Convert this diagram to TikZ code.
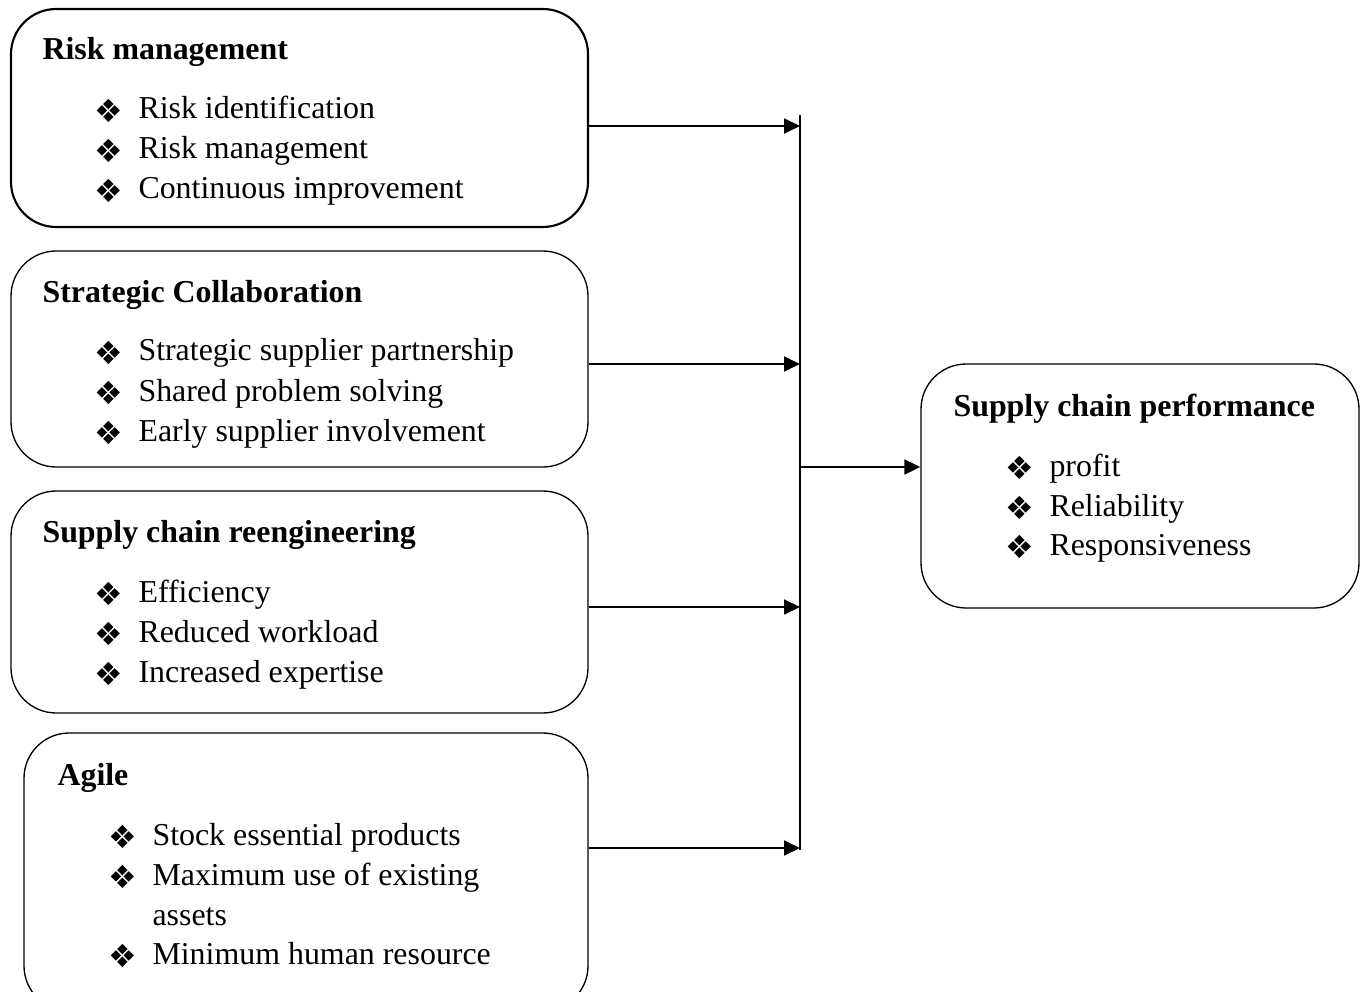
\documentclass[tikz,border=0pt]{standalone}
\usepackage{fontspec}
\setmainfont{Liberation Serif}
\newfontfamily\symfont{DejaVu Sans}
\usetikzlibrary{arrows.meta,fit}
\newcommand{\raute}{\raisebox{-1.3pt}{\symfont\fontsize{12}{12}\selectfont ❖}}

\begin{document}
\begin{tikzpicture}[x=0.3763pt,y=-0.3763pt,font=\fontsize{12}{14}\selectfont,
		box/.style={draw,rounded corners=17pt,line width=0.5pt,inner sep=0pt},
		kopf/.style={anchor=base west,inner sep=0pt,font=\fontsize{12}{14}\selectfont\bfseries},
		punkt/.style={anchor=base west,inner sep=0pt},
		pfeil/.style={-{Triangle[length=6pt,width=5.6pt]},line width=0.8pt}]
		\useasboundingbox (0,0) rectangle (1364,992);
		
		% Kaesten
		\node[box,line width=0.8pt,fit={(11,9) (588,227)}] (rm) {};
		\node[box,fit={(11,251) (588,467)}] (sc) {};
		\node[box,fit={(11,491) (588,713)}] (sr) {};
		\node[box,fit={(24,733) (588,1011)}] (ag) {};
		\node[box,fit={(921,364) (1359,608)}] (scp) {};
		
		% Ueberschriften
		\node[kopf] (rm-k) at (42,60) {Risk management};
		\node[kopf] (sc-k) at (42,302) {Strategic Collaboration};
		\node[kopf] (sr-k) at (42,542) {Supply chain reengineering};
		\node[kopf] (ag-k) at (57,785) {Agile};
		\node[kopf] (scp-k) at (953,416) {Supply chain performance};
		
		% Aufzaehlungen
		\foreach \t [count=\i] in {Risk identification,Risk management,Continuous improvement} {
			\node[punkt] (rm-b\i) at (94,{79+40*\i}) {\raute};
			\node[punkt] (rm-t\i) at (138,{79+40*\i}) {\t};
		}
		\foreach \t [count=\i] in {Strategic supplier partnership,Shared problem solving,Early supplier involvement} {
			\node[punkt] (sc-b\i) at (94,{321+40*\i}) {\raute};
			\node[punkt] (sc-t\i) at (138,{321+40*\i}) {\t};
		}
		\foreach \t [count=\i] in {Efficiency,Reduced workload,Increased expertise} {
			\node[punkt] (sr-b\i) at (94,{562+40*\i}) {\raute};
			\node[punkt] (sr-t\i) at (138,{562+40*\i}) {\t};
		}
		\node[punkt] (ag-b1) at (108,845) {\raute};
		\node[punkt] (ag-t1) at (152,845) {Stock essential products};
		\node[punkt] (ag-b2) at (108,885) {\raute};
		\node[punkt] (ag-t2) at (152,885) {Maximum use of existing};
		\node[punkt] (ag-t3) at (152,925) {assets};
		\node[punkt] (ag-b4) at (108,964) {\raute};
		\node[punkt] (ag-t4) at (152,964) {Minimum human resource};
		\foreach \t [count=\i] in {profit,Reliability,Responsiveness} {
			\node[punkt] (scp-b\i) at (1005,{437+39.5*\i}) {\raute};
			\node[punkt] (scp-t\i) at (1049,{437+39.5*\i}) {\t};
		}
		
		% Sammelleitung
		\coordinate (oben) at (800,115);
		\coordinate (unten) at (800,850);
		\coordinate (s1) at (800,126);
		\coordinate (s2) at (800,364);
		\coordinate (s3) at (800,607);
		\coordinate (s4) at (800,848);
		\coordinate (so) at (800,467);
		\draw[line width=0.5pt] (oben) -- (unten);
		
		% Pfeile
		\draw[pfeil] (rm.east |- s1) -- (s1);
		\draw[pfeil] (sc.east |- s2) -- (s2);
		\draw[pfeil] (sr.east |- s3) -- (s3);
		\draw[pfeil] (ag.east |- s4) -- (s4);
		\draw[pfeil] (so) -- (scp.west |- so);
	\end{tikzpicture}
\end{document}
